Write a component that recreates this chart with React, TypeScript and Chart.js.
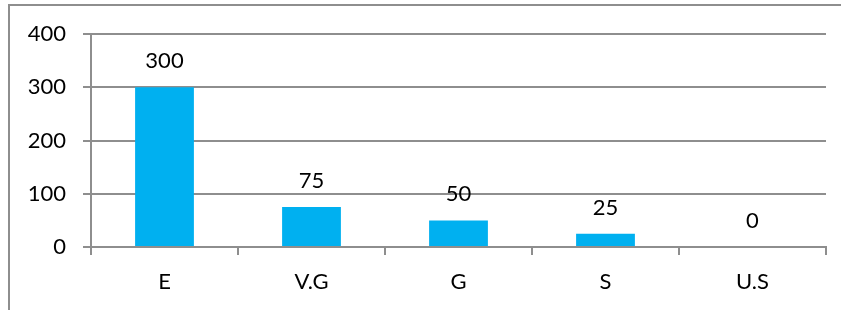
import React, { useEffect, useRef } from "react";
import { Chart, registerables } from "chart.js";

Chart.register(...registerables);

const categories = ["E", "V.G", "G", "S", "U.S"];
const values = [300, 75, 50, 25, 0];
const yTicks = [0, 100, 200, 300, 400];

const FONT = "Lato, 'Open Sans', sans-serif";
const GRAY = "#8e8e8e";
const FS = 22;

const borderPlugin = {
  id: "outerBorder",
  beforeDraw(chart: any) {
    const ctx = chart.ctx;
    ctx.save();
    ctx.strokeStyle = GRAY;
    ctx.lineWidth = 2;
    ctx.beginPath();
    ctx.moveTo(9, 320);
    ctx.lineTo(9, 5);
    ctx.lineTo(850, 5);
    ctx.stroke();
    ctx.restore();
  },
};

const valueLabels = {
  id: "valueLabels",
  afterDatasetsDraw(chart: any) {
    const ctx = chart.ctx;
    const meta = chart.getDatasetMeta(0);
    ctx.save();
    ctx.fillStyle = "#000";
    ctx.font = `${FS}px ${FONT}`;
    ctx.textAlign = "center";
    ctx.textBaseline = "middle";
    meta.data.forEach((bar: any, i: number) => {
      ctx.fillText(String(values[i]), bar.x, bar.y - 26);
    });
    ctx.restore();
  },
};

export default function App() {
  const ref = useRef<HTMLCanvasElement>(null);
  useEffect(() => {
    if (!ref.current) return;
    const chart = new Chart(ref.current, {
      type: "bar",
      data: {
        labels: categories,
        datasets: [
          {
            data: values,
            backgroundColor: "#00B0F0",
            barPercentage: 0.4,
            categoryPercentage: 1,
          },
        ],
      },
      options: {
        responsive: false,
        animation: false,
        layout: { padding: { left: 0, top: 34, right: 15, bottom: 0 } },
        plugins: { legend: { display: false }, tooltip: { enabled: false } },
        scales: {
          x: {
            offset: true,
            grid: {
              offset: true,
              drawOnChartArea: false,
              drawTicks: true,
              tickLength: 8,
              color: GRAY,
              lineWidth: 2,
            },
            border: { display: true, color: GRAY, width: 2 },
            ticks: { color: "#000", font: { family: FONT, size: FS }, padding: 14 },
            afterFit(scale: any) {
              scale.height = 63;
            },
          },
          y: {
            min: 0,
            max: 400,
            afterBuildTicks(scale: any) {
              scale.ticks = yTicks.map((v) => ({ value: v }));
            },
            grid: { color: GRAY, lineWidth: 2, tickLength: 8 },
            border: { display: true, color: GRAY, width: 2 },
            ticks: { color: "#000", font: { family: FONT, size: FS }, padding: 17 },
            afterFit(scale: any) {
              scale.width = 91;
            },
          },
        },
      },
      plugins: [borderPlugin, valueLabels],
    });
    return () => chart.destroy();
  }, []);
  return (
    <canvas
      ref={ref}
      width={841}
      height={310}
      style={{ position: "fixed", left: 0, top: 0, width: 841, height: 310 }}
    />
  );
}
